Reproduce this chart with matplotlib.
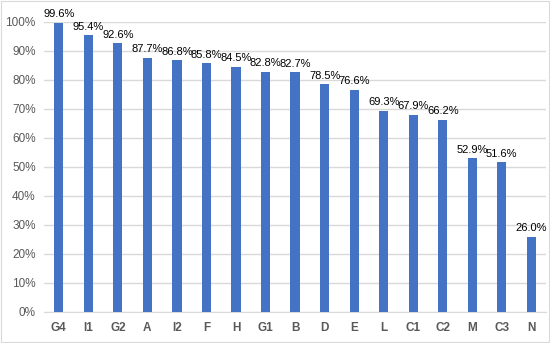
import matplotlib
matplotlib.use("Agg")
import matplotlib.pyplot as plt
from matplotlib.ticker import PercentFormatter
import numpy as np

plt.rcParams['font.family'] = ['Liberation Sans', 'DejaVu Sans']

categories = ["G4", "I1", "G2", "A", "I2", "F", "H", "G1", "B", "D", "E", "L", "C1", "C2", "M", "C3", "N"]
values = [99.6, 95.4, 92.6, 87.7, 86.8, 85.8, 84.5, 82.8, 82.7, 78.5, 76.6, 69.3, 67.9, 66.2, 52.9, 51.6, 26.0]

fig = plt.figure(figsize=(5.5, 3.43), dpi=100)
ax = fig.add_axes([0.08, 0.0904, 0.913, 0.846])

x = np.arange(len(categories))
bars = ax.bar(x, values, width=0.31, color="#4472C4", zorder=3)
for xi, v in zip(x, values):
    ax.text(xi, v + 1.2, f"{v:.1f}%", ha="center", va="bottom", fontsize=8, color="black", clip_on=False)

ax.set_xlim(-0.5, len(categories) - 0.5)
ax.set_ylim(0, 100)
ax.set_yticks(np.arange(0, 101, 10))
ax.yaxis.set_major_formatter(PercentFormatter(decimals=0))
ax.set_xticks(x)
ax.set_xticklabels(categories, fontweight="bold")
ax.tick_params(axis="both", length=0, labelsize=8.5, colors="#595959")
ax.tick_params(axis="x", pad=7)
ax.tick_params(axis="y", pad=6)
ax.grid(axis="y", color="#D9D9D9", linewidth=1, zorder=0)
for s in ["top", "right", "left"]:
    ax.spines[s].set_visible(False)
ax.spines["bottom"].set_color("#D9D9D9")

fig.patches.append(plt.Rectangle((0.002, 0.003), 0.996, 0.994, transform=fig.transFigure,
                                 fill=False, edgecolor="#D9D9D9", linewidth=0.8))

fig.savefig("out.png", dpi=100)
